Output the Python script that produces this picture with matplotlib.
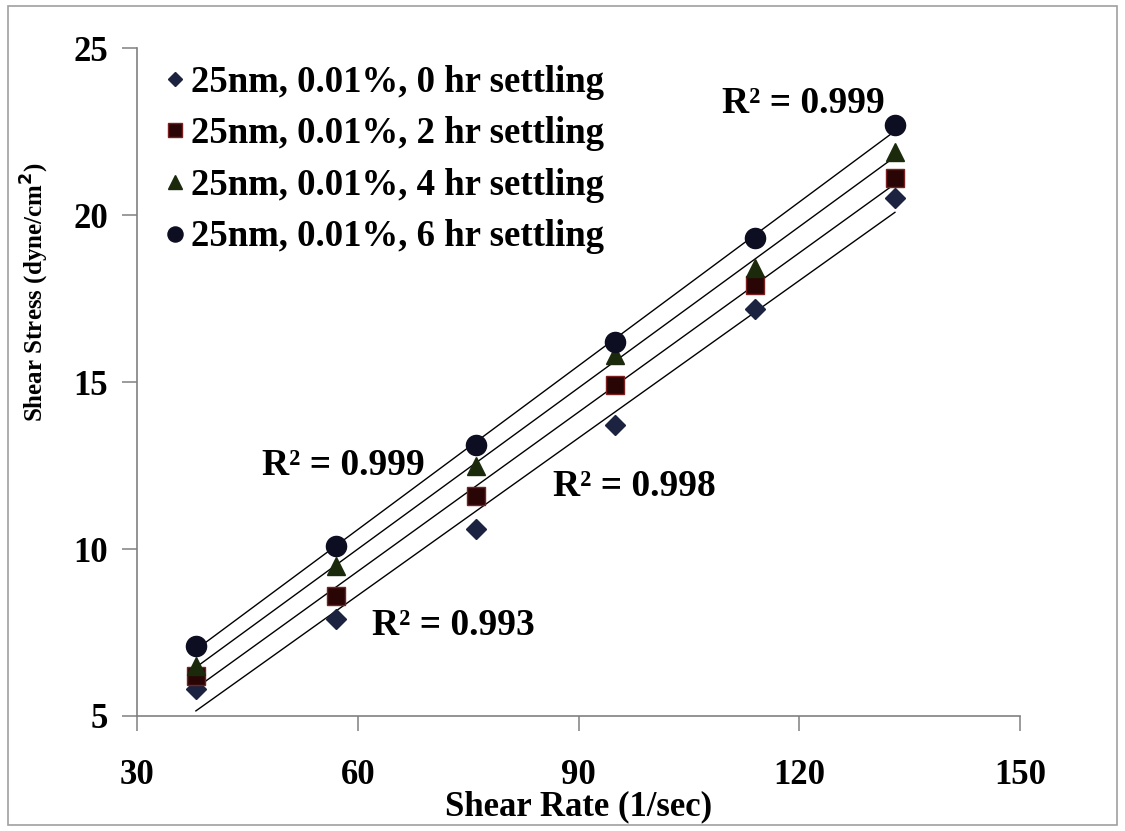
import numpy as np
import matplotlib.pyplot as plt
from matplotlib.patches import Rectangle

# Shear rate (1/sec) and measured shear stress (dyne/cm^2)
shear_rate = [38, 57, 76, 95, 114, 133]
stress_0hr = [5.8, 7.9, 10.6, 13.7, 17.2, 20.5]
stress_2hr = [6.2, 8.6, 11.6, 14.9, 17.9, 21.1]
stress_4hr = [6.5, 9.5, 12.5, 15.8, 18.4, 21.9]
stress_6hr = [7.1, 10.1, 13.1, 16.2, 19.3, 22.7]

labels = ['25nm, 0.01%, 0 hr settling',
          '25nm, 0.01%, 2 hr settling',
          '25nm, 0.01%, 4 hr settling',
          '25nm, 0.01%, 6 hr settling']
r2_text = ['R² = 0.993', 'R² = 0.998', 'R² = 0.999', 'R² = 0.999']
r2_pos = [(62, 7.72), (86.5, 11.86), (47, 12.5), (109.5, 23.35)]

x_ticks = [30, 60, 90, 120, 150]
y_ticks = [5, 10, 15, 20, 25]

plt.rcParams['font.family'] = ['Liberation Serif', 'DejaVu Serif']
plt.rcParams['font.weight'] = 'bold'

fig = plt.figure(figsize=(11.25, 8.31), dpi=100)
ax = fig.add_axes([0.1218, 0.1384, 0.7849, 0.8038])

styles = [
    dict(marker='D', ms=10, color='#1c2340', mec='#1c2340'),
    dict(marker='s', ms=12.5, color='#2a0505', mec='#7a2020'),
    dict(marker='^', ms=13, color='#1c2a0c', mec='#1c2a0c'),
    dict(marker='o', ms=14.5, color='#0e0e22', mec='#0e0e22'),
]

series = [stress_0hr, stress_2hr, stress_4hr, stress_6hr]
x = np.array(shear_rate)
for ys, lab, st in zip(series, labels, styles):
    ax.plot(x, ys, linestyle='none', label=lab, zorder=3, **st)
    # linear trendline over the measured range
    slope, intercept = np.polyfit(x, ys, 1)
    ax.plot(x, slope * x + intercept, color='black', lw=1.0, zorder=2)

for txt, (tx, ty) in zip(r2_text, r2_pos):
    ax.text(tx, ty, txt, fontsize=27, fontweight='bold', ha='left', va='center')

ax.set_xlim(30, 150)
ax.set_ylim(5, 25)
ax.set_xticks(x_ticks)
ax.set_yticks(y_ticks)
ax.tick_params(axis='both', labelsize=25, length=11, width=1.1, color='#808080')
ax.tick_params(axis='x', pad=20)
ax.tick_params(axis='y', pad=10)
for lbl in ax.get_xticklabels() + ax.get_yticklabels():
    lbl.set_fontweight('bold')

for side in ['top', 'right']:
    ax.spines[side].set_visible(False)
for side in ['left', 'bottom']:
    ax.spines[side].set_color('#808080')
    ax.spines[side].set_linewidth(1.2)

ax.set_xlabel('Shear Rate (1/sec)', fontsize=25, fontweight='bold')
ax.xaxis.set_label_coords(0.5, -0.112)
ax.set_ylabel('Shear Stress (dyne/cm$^{\\mathbf{2}}$)', fontsize=18, fontweight='bold')
ax.yaxis.set_label_coords(-0.097, 0.635)

leg = ax.legend(loc='upper left', bbox_to_anchor=(0.03, 0.975), frameon=False,
                handletextpad=0.15, handlelength=0.6, borderaxespad=0, borderpad=0,
                labelspacing=0.45, markerscale=0.75,
                prop={'weight': 'bold', 'size': 26.5})

# outer frame around the figure
fig.patches.append(Rectangle((0.007, 0.007), 0.986, 0.986, transform=fig.transFigure,
                             fill=False, edgecolor='#a0a0a0', lw=1.2))

plt.savefig('out.png', dpi=100)
